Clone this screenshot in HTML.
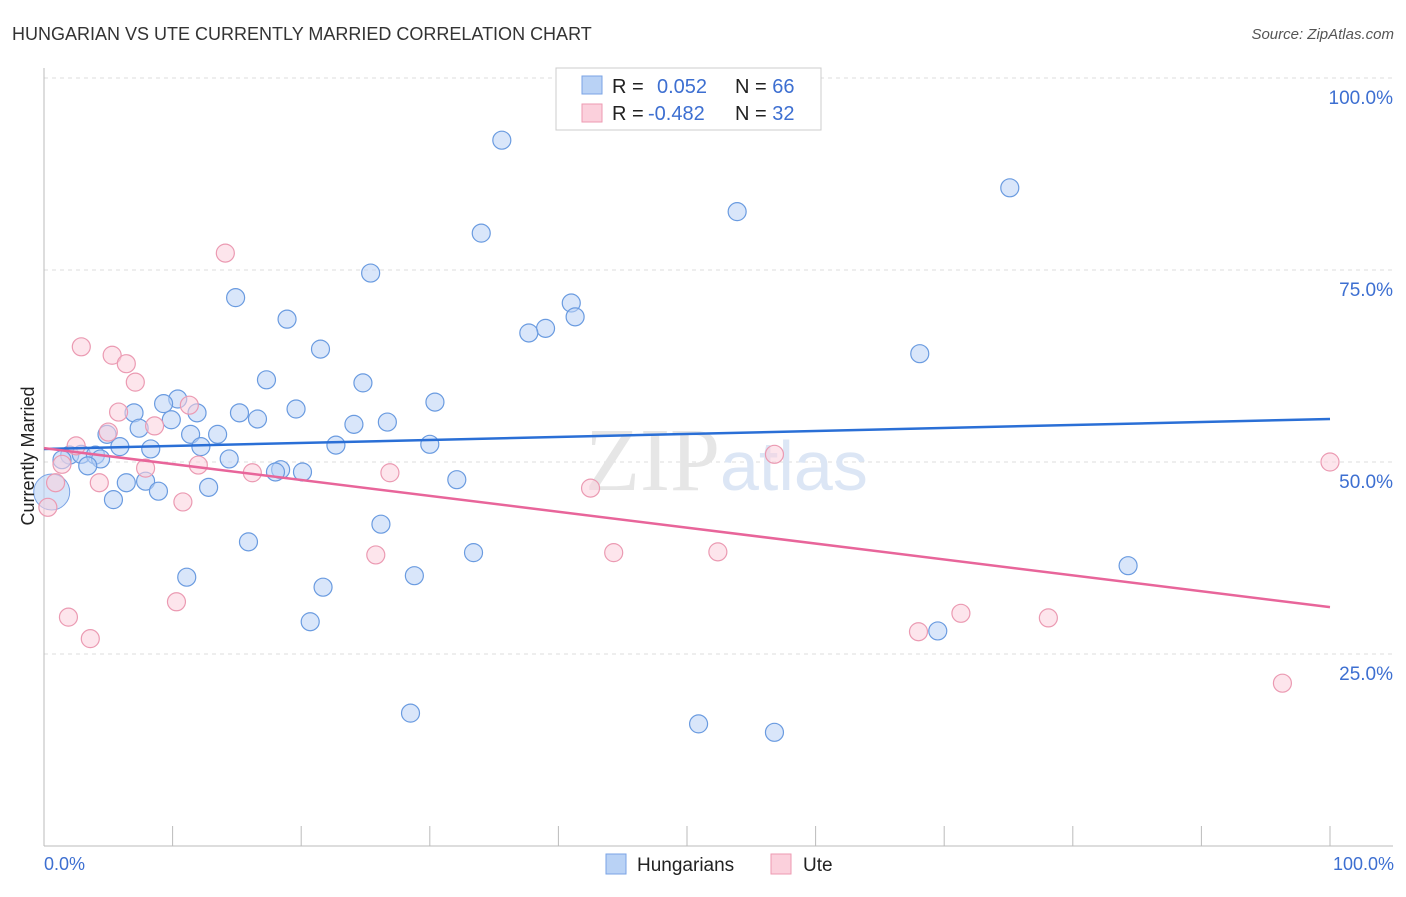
<!DOCTYPE html>
<html><head><meta charset="utf-8"><style>
body{margin:0;background:#fff;font-family:"Liberation Sans",sans-serif}
</style></head><body>
<svg width="1406" height="892" xmlns="http://www.w3.org/2000/svg" font-family="Liberation Sans, sans-serif">
<text x="12" y="40" font-size="18" fill="#333">HUNGARIAN VS UTE CURRENTLY MARRIED CORRELATION CHART</text>
<text x="1394" y="39" font-size="15" fill="#555" text-anchor="end" font-style="italic">Source: ZipAtlas.com</text>
<g id="grid"></g>
<text x="720" y="490" font-size="90" fill="#e6e6e6" text-anchor="end" font-family="Liberation Serif, serif">ZIP</text>
<text x="720" y="490" font-size="70" fill="#dce6f5">atlas</text>
<g id="pts"></g>
<g id="lines"></g>
<text transform="translate(34,456) rotate(-90)" font-size="18" fill="#222" text-anchor="middle">Currently Married</text>
<text x="44" y="870" font-size="18" fill="#3d6fd1">0.0%</text>
<text x="1394" y="870" font-size="18" fill="#3d6fd1" text-anchor="end">100.0%</text>
<g>
<rect x="556" y="68" width="265" height="62" fill="#fff" stroke="#ccc"/>
<rect x="582" y="76" width="20" height="18" fill="#b9d2f5" stroke="#7aa3e5"/>
<rect x="582" y="104" width="20" height="18" fill="#fbd0dc" stroke="#ee9ab2"/>
<text x="612" y="93" font-size="20" fill="#222">R = <tspan fill="#3d6fd1" x="657">0.052</tspan><tspan x="735" fill="#222">N = </tspan><tspan fill="#3d6fd1">66</tspan></text>
<text x="612" y="120" font-size="20" fill="#222">R = <tspan fill="#3d6fd1" x="648">-0.482</tspan><tspan x="735" fill="#222">N = </tspan><tspan fill="#3d6fd1">32</tspan></text>
</g>
<g>
<rect x="606" y="854" width="20" height="20" fill="#b9d2f5" stroke="#7aa3e5"/>
<text x="637" y="871" font-size="19" fill="#222">Hungarians</text>
<rect x="771" y="854" width="20" height="20" fill="#fbd0dc" stroke="#ee9ab2"/>
<text x="803" y="871" font-size="19" fill="#222">Ute</text>
</g>
</svg>
<script>
const blueX=[35.6,75.1,53.9,34.0,25.4,14.9,41.0,41.3,18.9,39.0,37.7,21.5,68.1,17.3,24.8,30.4,10.4,9.3,19.6,7.0,11.9,15.2,9.9,16.6,26.7,24.1,7.4,11.4,13.5,4.9,30.0,22.7,5.9,8.3,12.2,2.0,2.9,4.0,1.4,4.4,14.4,3.4,18.4,18.0,20.1,32.1,6.4,7.9,12.8,8.9,5.4,26.2,15.9,33.4,84.3,11.1,28.8,21.7,20.7,69.5,28.5,50.9,56.8];
const blueY=[91.9,85.7,82.6,79.8,74.6,71.4,70.7,68.9,68.6,67.4,66.8,64.7,64.1,60.7,60.3,57.8,58.2,57.6,56.9,56.4,56.4,56.4,55.5,55.6,55.2,54.9,54.4,53.6,53.6,53.6,52.3,52.2,52.0,51.7,52.0,50.9,51.0,50.9,50.3,50.4,50.4,49.5,49.0,48.7,48.7,47.7,47.3,47.5,46.7,46.2,45.1,41.9,39.6,38.2,36.5,35.0,35.2,33.7,29.2,28.0,17.3,15.9,14.8];
const pinkX=[14.1,2.9,5.3,6.4,7.1,11.3,5.8,8.6,5.0,2.5,56.8,100,1.4,12.0,7.9,16.2,26.9,4.3,0.9,42.5,10.8,0.3,25.8,44.3,52.4,10.3,1.9,71.3,78.1,68.0,3.6,96.3];
const pinkY=[77.2,65.0,63.9,62.8,60.4,57.4,56.5,54.7,53.9,52.1,51.0,50.0,49.7,49.6,49.2,48.6,48.6,47.3,47.3,46.6,44.8,44.1,37.9,38.2,38.3,31.8,29.8,30.3,29.7,27.9,27.0,21.2];
const yTicks=[100,75,50,25];
const yTickLabels=["100.0%","75.0%","50.0%","25.0%"];
const xTicks=[0,10,20,30,40,50,60,70,80,90,100];
const blueTrend=[51.7,55.6];
const pinkTrend=[51.8,31.1];
const NS="http://www.w3.org/2000/svg";
const sx=v=>44+v*12.86, sy=v=>846-v*7.68;
function mk(tag,a,parent){const e=document.createElementNS(NS,tag);for(const k in a)e.setAttribute(k,a[k]);parent.appendChild(e);return e;}
const grid=document.getElementById('grid');
yTicks.forEach((t,i)=>{
 const l=mk('line',{x1:44,x2:1393,y1:sy(t),y2:sy(t),stroke:'#ddd','stroke-dasharray':'4,4'},grid);
 
 
 const tx=mk('text',{x:1393,y:sy(t)+26,'font-size':19,fill:'#3d6fd1','text-anchor':'end'},grid);
 tx.textContent=yTickLabels[i];
 
 
});
const ax=mk('line',{x1:44,x2:44,y1:68,y2:846,stroke:'#bbb'},grid);


const bx=mk('line',{x1:44,x2:1393,y1:846,y2:846,stroke:'#bbb'},grid);


xTicks.forEach(t=>{
 const l=mk('line',{x1:sx(t),x2:sx(t),y1:826,y2:846,stroke:'#bbb'},grid);
 
 
});
const pts=document.getElementById('pts');
const big=mk('circle',{cx:sx(0.6),cy:sy(46.1),r:18,fill:'#b9d2f5','fill-opacity':0.6,stroke:'#7aa3e5'},pts);


blueX.forEach((x,i)=>{
 const c=mk('circle',{cx:sx(x),cy:sy(blueY[i]),r:9,fill:'#b9d2f5','fill-opacity':0.55,stroke:'#6a9be0','stroke-width':1.2},pts);
 
 
});
pinkX.forEach((x,i)=>{
 const c=mk('circle',{cx:sx(x),cy:sy(pinkY[i]),r:9,fill:'#fbd0dc','fill-opacity':0.55,stroke:'#eb9ab2','stroke-width':1.2},pts);
 
 
});
const lines=document.getElementById('lines');
const bl=mk('line',{x1:sx(0),y1:sy(blueTrend[0]),x2:sx(100),y2:sy(blueTrend[1]),stroke:'#2a6fd6','stroke-width':2.5},lines);


const pl=mk('line',{x1:sx(0),y1:sy(pinkTrend[0]),x2:sx(100),y2:sy(pinkTrend[1]),stroke:'#e8659a','stroke-width':2.5},lines);


</script>
</body></html>
